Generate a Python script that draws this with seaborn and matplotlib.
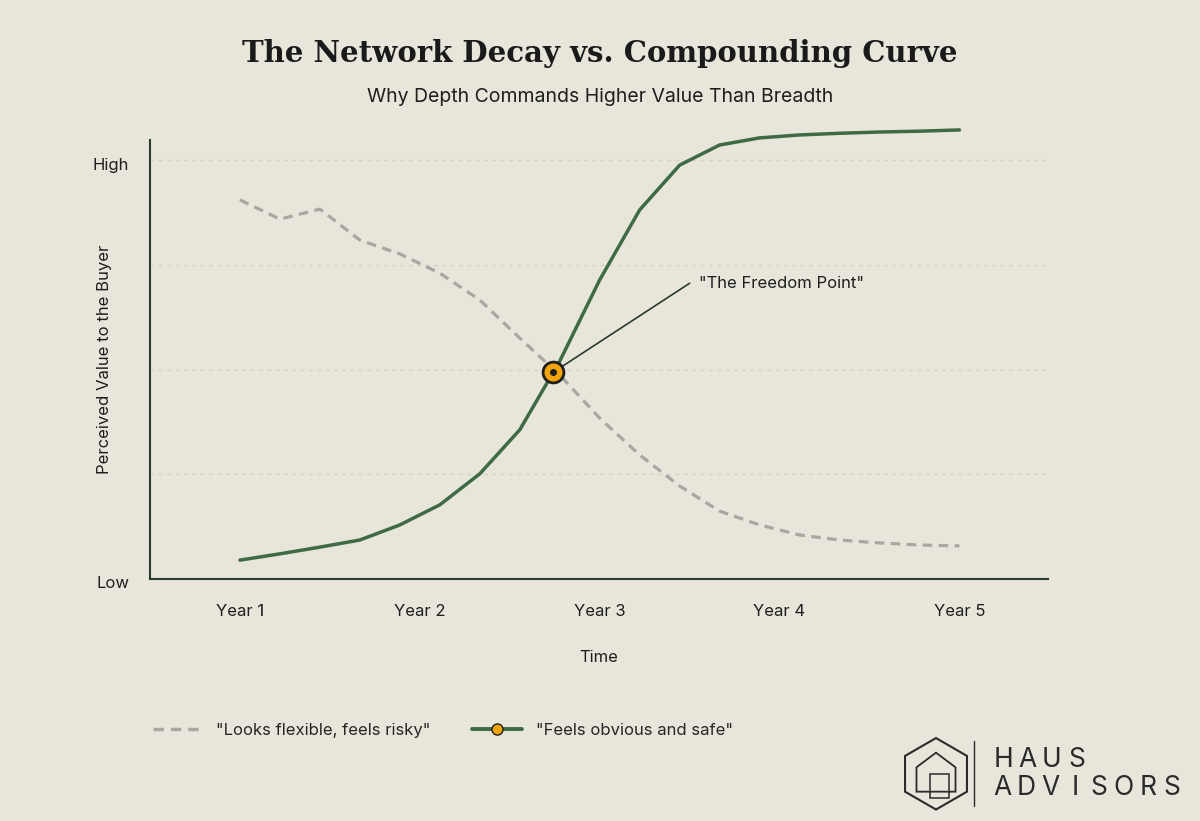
import numpy as np
import matplotlib
matplotlib.use("Agg")
import matplotlib.pyplot as plt
import seaborn as sns
import pandas as pd
from matplotlib.patches import RegularPolygon, Polygon
from matplotlib.lines import Line2D

years = [1 + i * 2 / 9 for i in range(19)]
risky = [90.5, 85.9, 88.3, 80.9, 77.6, 73.0, 66.6, 57.5, 48.7, 38.4, 29.6, 22.2, 16.2, 12.9, 10.5, 9.3, 8.6, 8.1, 7.9]
safe = [4.5, 6.0, 7.6, 9.3, 12.9, 17.7, 25.1, 35.6, 52.0, 71.4, 88.1, 98.8, 103.6, 105.3, 106.0, 106.4, 106.7, 106.9, 107.2]
xticks = [1, 2, 3, 4, 5]
xlabels = ["Year 1", "Year 2", "Year 3", "Year 4", "Year 5"]
point_x, point_y = 2.74, 49.3

bg = "#E8E6DB"
green = "#3E6A45"
gray = "#A9A7A1"
sns.set_theme(style="white")
plt.rcParams['font.family'] = ['Inter', 'DejaVu Sans']

fig = plt.figure(figsize=(12, 8.21), dpi=100, facecolor=bg)
ax = fig.add_axes([0.125, 0.2948, 0.748, 0.5347], facecolor=bg)
df = pd.DataFrame({"x": years, "risky": risky, "safe": safe})
sns.lineplot(data=df, x="x", y="risky", ax=ax, color=gray, lw=2.3, linestyle=(0, (3, 2)), clip_on=False)
sns.lineplot(data=df, x="x", y="safe", ax=ax, color=green, lw=2.5, clip_on=False)
ax.plot([point_x], [point_y], marker="o", ms=15, mfc="#F0A30A", mec="#1E1E1E", mew=2, zorder=5, clip_on=False)
ax.plot([point_x], [point_y], marker="o", ms=4, mfc="#1E1E1E", mec="#1E1E1E", zorder=6, clip_on=False)
ax.plot([point_x, 3.5], [point_y, 70.6], color="#2A3A2C", lw=1.2, zorder=4)
ax.text(3.55, 70.6, '"The Freedom Point"', fontsize=12, color="#1E1E1E", va="center")
ax.set_xticks(xticks)
ax.set_xticklabels(xlabels, fontsize=12, color="#1E1E1E")
ax.set_yticks([0, 100])
ax.set_yticklabels(["Low", "High"], fontsize=12, color="#1E1E1E", va="top")
ax.set_xlim(0.5, 5.49)
ax.set_ylim(0, 104.8)
for v in [25, 50, 75, 100]:
    ax.axhline(v, color="#D6D3C6", lw=1, ls=(0, (3, 3)), zorder=0)
ax.tick_params(axis="both", length=0, pad=18)
ax.tick_params(axis="y", pad=15)
for lbl in ax.get_yticklabels():
    lbl.set_va("center")
    lbl.set_y(lbl.get_position()[1])
import matplotlib.transforms as mtrans
for lbl in ax.get_yticklabels():
    lbl.set_transform(lbl.get_transform() + mtrans.ScaledTranslation(0, -5 / 100, fig.dpi_scale_trans))
for s in ["top", "right"]:
    ax.spines[s].set_visible(False)
for s in ["left", "bottom"]:
    ax.spines[s].set_color("#2A3A2C")
    ax.spines[s].set_linewidth(1.5)
ax.set_xlabel("Time", fontsize=12, color="#1E1E1E", labelpad=22)
ax.set_ylabel("Perceived Value to the Buyer", fontsize=12, color="#1E1E1E")
ax.yaxis.set_label_coords(-0.042, 0.5)

fig.text(0.5, 0.935, "The Network Decay vs. Compounding Curve", ha="center", va="center",
         fontsize=21, fontweight="bold", family="DejaVu Serif", color="#1A1A1A")
fig.text(0.5, 0.882, "Why Depth Commands Higher Value Than Breadth", ha="center", va="center",
         fontsize=14, color="#1E1E1E")

handles = [Line2D([], [], color=gray, lw=2.5, ls=(0, (3, 2))),
           Line2D([], [], color=green, lw=2.8, marker="o", ms=8, mfc="#F0A30A", mec="#1E1E1E")]
fig.legend(handles, ['"Looks flexible, feels risky"', '"Feels obvious and safe"'],
           loc="center left", bbox_to_anchor=(0.115, 0.11), ncol=2, frameon=False,
           fontsize=12, handlelength=3, columnspacing=2.5)

# logo
lax = fig.add_axes([0.745, 0.01, 0.07, 0.095], facecolor="none")
lax.set_xlim(-1.2, 1.2); lax.set_ylim(-1.2, 1.2); lax.set_aspect("equal"); lax.axis("off")
lax.add_patch(RegularPolygon((0, 0), 6, radius=1.1, fill=False, ec="#2A2A2A", lw=1.5))
lax.add_patch(Polygon([(-0.6, -0.55), (-0.6, 0.2), (0, 0.65), (0.6, 0.2), (0.6, -0.55)], closed=True, fill=False, ec="#2A2A2A", lw=1.3))
lax.add_patch(Polygon([(-0.2, 0.0), (0.4, 0.0), (0.4, -0.75), (-0.2, -0.75)], closed=True, fill=False, ec="#2A2A2A", lw=1.1))
fig.add_artist(Line2D([0.812, 0.812], [0.018, 0.098], color="#2A2A2A", lw=1))
for i, ch in enumerate("HAUS"):
    fig.text((1003 + i * 24.5) / 1200, 0.074, ch, fontsize=19, color="#2A2A2A", va="center", ha="center")
for i, ch in enumerate("ADVISORS"):
    fig.text((1002 + i * 24.3) / 1200, 0.04, ch, fontsize=19, color="#2A2A2A", va="center", ha="center")

fig.savefig("out.png", dpi=100, facecolor=bg)
